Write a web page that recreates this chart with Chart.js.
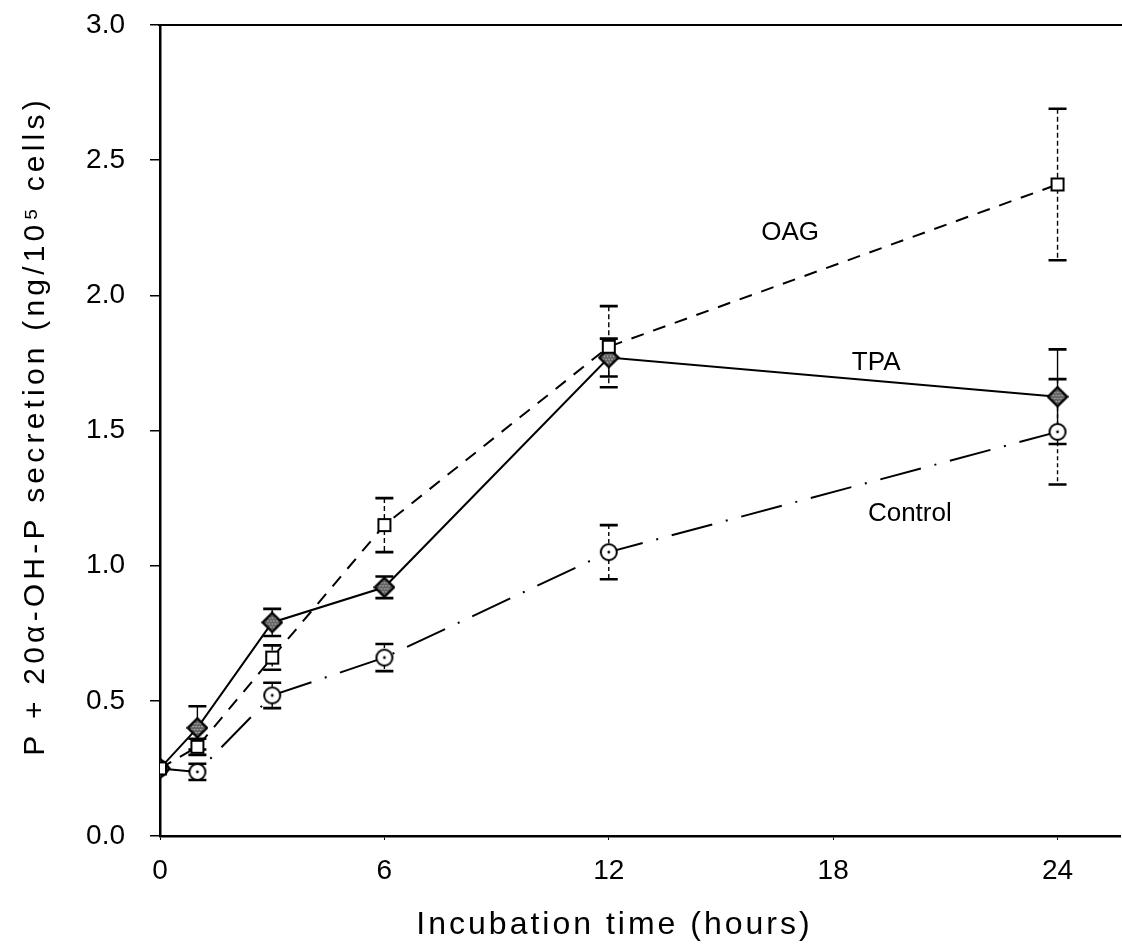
<!DOCTYPE html>
<html><head><meta charset="utf-8">
<script src="https://cdn.jsdelivr.net/npm/chart.js@4.4.0/dist/chart.umd.min.js"></script>
<style>html,body{margin:0;padding:0;background:#fff}#wrap{width:1122px;height:951px;position:relative}</style>
</head><body><div id="wrap"><canvas id="c"></canvas></div>
<script>
// ---- data ----
const hours = [0, 1, 3, 6, 12, 24];
const oagMean = [0.25, 0.33, 0.66, 1.15, 1.81, 2.41];
const oagErr  = [0, 0.03, 0.045, 0.10, 0.15, 0.28];
const tpaMean = [0.25, 0.40, 0.79, 0.92, 1.77, 1.625];
const tpaErr  = [0, 0.08, 0.05, 0.04, 0.07, 0.175];
const ctlMean = [0.25, 0.237, 0.52, 0.66, 1.05, 1.495];
const ctlErr  = [0, 0.03, 0.047, 0.05, 0.10, 0.195];
const xTickValues = [0, 6, 12, 18, 24];
const yTickValues = [0, 0.5, 1.0, 1.5, 2.0, 2.5, 3.0];
const seriesNames = ['OAG', 'TPA', 'Control'];
const xTitle = 'Incubation time (hours)';
const yTitle = 'P + 20\u03B1-OH-P secretion (ng/10\u2075 cells)';

const FONT = "'Liberation Sans', Arial, Helvetica, sans-serif";

// ---- marker images ----
function mk(size, draw){const c=document.createElement('canvas');c.width=size;c.height=size;draw(c.getContext('2d'),size);return c;}
const sqMarker = mk(16,(g,s)=>{g.fillStyle='#fff';g.fillRect(2,2,s-4,s-4);g.strokeStyle='#000';g.lineWidth=2;g.strokeRect(2,2,s-4,s-4);});
const diaMarker = mk(22,(g,s)=>{
  g.beginPath();g.moveTo(s/2,1.5);g.lineTo(s-1.5,s/2);g.lineTo(s/2,s-1.5);g.lineTo(1.5,s/2);g.closePath();
  g.fillStyle='#5e5e5e';g.fill();
  g.save();g.clip();g.fillStyle='#d0d0d0';
  for(let y=0;y<s;y+=3){for(let x=(y/3)%2?0:1.5;x<s;x+=3){g.fillRect(x,y,1.3,1.3);}}
  g.restore();
  g.strokeStyle='#000';g.lineWidth=2.4;g.stroke();
});
const cirMarker = mk(20,(g,s)=>{g.beginPath();g.arc(s/2,s/2,s/2-2,0,Math.PI*2);g.fillStyle='#fff';g.fill();g.strokeStyle='#000';g.lineWidth=2;g.stroke();
  g.beginPath();g.arc(s/2,s/2,1.4,0,Math.PI*2);g.fillStyle='#000';g.fill();});

function pts(m){return hours.map((h,i)=>({x:h,y:m[i]}));}

const errorBars = {
  id:'errorBars',
  beforeDatasetsDraw(chart){
    const g=chart.ctx, xs=chart.scales.x, ys=chart.scales.y;
    chart.data.datasets.forEach((ds)=>{
      if(!ds.err) return;
      g.save();
      ds.err.forEach((e,i)=>{
        if(!e) return;
        const px=xs.getPixelForValue(hours[i]);
        const top=ys.getPixelForValue(ds.mean[i]+e), bot=ys.getPixelForValue(ds.mean[i]-e);
        g.strokeStyle='#000';
        g.lineWidth=1.4; g.setLineDash(ds.errDash);
        g.beginPath(); g.moveTo(px,top); g.lineTo(px,bot); g.stroke();
        g.setLineDash([]); g.lineWidth=2.6;
        g.beginPath(); g.moveTo(px-9,top); g.lineTo(px+9,top); g.moveTo(px-9,bot); g.lineTo(px+9,bot); g.stroke();
      });
      g.restore();
    });
  }
};

function spacedText(g, text, x, y, spacing){
  if ('letterSpacing' in g) {
    g.letterSpacing = spacing + 'px';
    const w = g.measureText(text).width - spacing;
    g.textAlign = 'left';
    g.fillText(text, x - w/2, y);
    g.letterSpacing = '0px';
    return;
  }
  const chars=[...text]; let w=0; const ws=chars.map(c=>g.measureText(c).width);
  ws.forEach(v=>w+=v); w+=spacing*(chars.length-1);
  let cx=x-w/2; g.textAlign='left';
  chars.forEach((c,i)=>{g.fillText(c,cx,y);cx+=ws[i]+spacing;});
}

const extras = {
  id:'extras',
  afterDraw(chart){
    const g=chart.ctx, a=chart.chartArea, xs=chart.scales.x, ys=chart.scales.y;
    const o=chart.options.plugins.extras;
    g.save();
    g.strokeStyle='#000'; g.lineWidth=2;
    g.beginPath(); g.moveTo(a.left-2,a.top); g.lineTo(chart.width,a.top); g.stroke();
    g.fillStyle='#000'; g.font='26px '+FONT; g.textAlign='center'; g.textBaseline='middle';
    o.labels.forEach(l=>{g.fillText(l.text, xs.getPixelForValue(l.x), ys.getPixelForValue(l.y));});
    g.font='32px '+FONT;
    spacedText(g, xTitle, o.xTitlePos[0], o.xTitlePos[1], 3);
    g.save();
    g.translate(o.yTitlePos[0], o.yTitlePos[1]); g.rotate(-Math.PI/2);
    g.font='30px '+FONT;
    spacedText(g, yTitle, 0, 0, 4.2);
    g.restore();
    g.restore();
  }
};

new Chart(document.getElementById('c'), {
  type:'line',
  data:{datasets:[
    {label:seriesNames[0], data:pts(oagMean), mean:oagMean, err:oagErr, errDash:[5,3],
     borderColor:'#000', borderWidth:2, borderDash:[13,10], pointStyle:sqMarker, pointRadius:8, fill:false, tension:0},
    {label:seriesNames[1], data:pts(tpaMean), mean:tpaMean, err:tpaErr, errDash:[],
     borderColor:'#000', borderWidth:2, pointStyle:diaMarker, pointRadius:11, fill:false, tension:0},
    {label:seriesNames[2], data:pts(ctlMean), mean:ctlMean, err:ctlErr, errDash:[4,3],
     borderColor:'#000', borderWidth:2, borderDash:[42,14,2,14], pointStyle:cirMarker, pointRadius:10, fill:false, tension:0}
  ]},
  options:{
    responsive:true, maintainAspectRatio:false, animation:false,
    layout:{autoPadding:false, padding:{top:25,right:2,left:0,bottom:0}},
    plugins:{legend:{display:false}, tooltip:{enabled:false},
      extras:{labels:[{text:seriesNames[0],x:16.85,y:2.23},{text:seriesNames[1],x:19.15,y:1.75},{text:seriesNames[2],x:20.05,y:1.19}],
        xTitlePos:[613,925], yTitlePos:[36,428]}},
    scales:{
      x:{type:'linear', min:0, max:25.67,
        afterBuildTicks(s){s.ticks=xTickValues.map(v=>({value:v}));},
        afterFit(s){s.height=115; s.paddingLeft=0; s.paddingRight=0;},
        grid:{display:true, drawOnChartArea:false, drawTicks:true, tickLength:4, color:'#000', lineWidth:1},
        border:{display:true, color:'#000', width:2.5},
        ticks:{color:'#000', font:{family:FONT,size:28}, padding:14, maxRotation:0, callback:v=>String(v)},
        title:{display:false}
      },
      y:{type:'linear', min:0, max:3,
        afterBuildTicks(s){s.ticks=yTickValues.map(v=>({value:v}));},
        afterFit(s){s.width=160; s.paddingTop=0; s.paddingBottom=0;},
        grid:{display:true, drawOnChartArea:false, drawTicks:true, tickLength:10, color:'#000', lineWidth:1.5},
        border:{display:true, color:'#000', width:2.5},
        ticks:{color:'#000', font:{family:FONT,size:28}, padding:25, callback:v=>Number(v).toFixed(1)},
        title:{display:false}
      }
    }
  },
  plugins:[errorBars, extras]
});
</script></body></html>
